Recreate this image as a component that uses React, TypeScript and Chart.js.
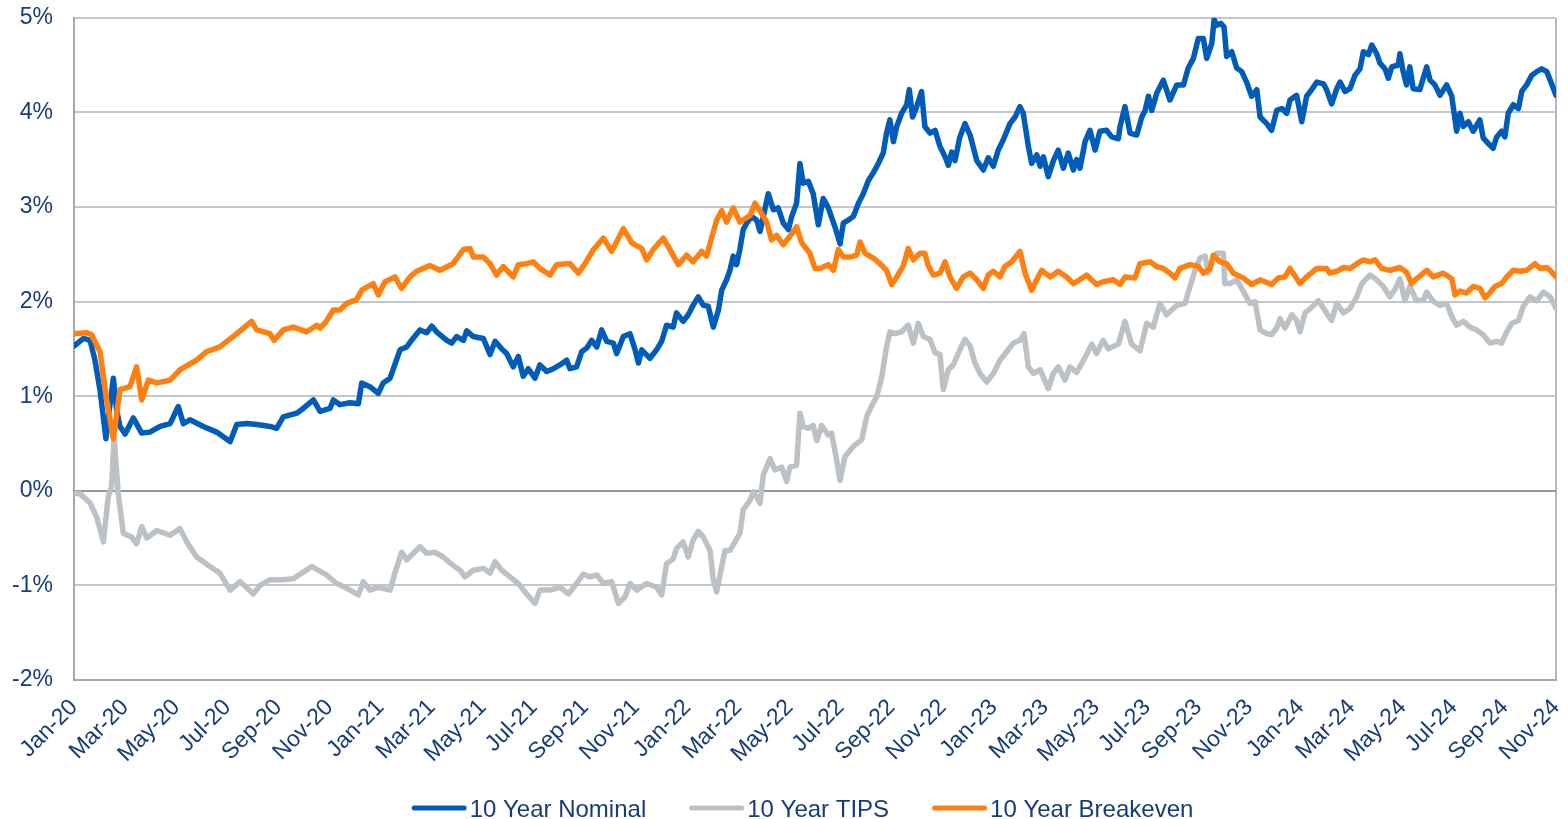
import React, { useEffect, useRef } from 'react';
import { Chart, registerables } from 'chart.js';

Chart.register(...registerables);

const xLabels = [
  'Jan-20', 'Mar-20', 'May-20', 'Jul-20', 'Sep-20', 'Nov-20',
  'Jan-21', 'Mar-21', 'May-21', 'Jul-21', 'Sep-21', 'Nov-21',
  'Jan-22', 'Mar-22', 'May-22', 'Jul-22', 'Sep-22', 'Nov-22',
  'Jan-23', 'Mar-23', 'May-23', 'Jul-23', 'Sep-23', 'Nov-23',
  'Jan-24', 'Mar-24', 'May-24', 'Jul-24', 'Sep-24', 'Nov-24',
];

// [months from the start of the axis, yield in %]
const nominal: [number, number][] = [
  [0, 1.53], [0.37, 1.61], [0.63, 1.59], [0.82, 1.38], [1.02, 1.06], [1.25, 0.55], [1.38, 0.85], [1.54, 1.19], [1.67, 0.85], [1.8, 0.68],
  [2.0, 0.6], [2.32, 0.77], [2.65, 0.61], [2.97, 0.62], [3.37, 0.68], [3.76, 0.71], [4.08, 0.89], [4.28, 0.71], [4.54, 0.75], [5.06, 0.68],
  [5.58, 0.62], [6.11, 0.52], [6.37, 0.7], [6.76, 0.71], [7.15, 0.7], [7.67, 0.68], [7.93, 0.66], [8.19, 0.78], [8.72, 0.82], [8.97, 0.87],
  [9.37, 0.96], [9.63, 0.84], [10.02, 0.87], [10.15, 0.96], [10.41, 0.91], [10.8, 0.93], [11.13, 0.92], [11.26, 1.14], [11.58, 1.1], [11.91, 1.03],
  [12.1, 1.14], [12.37, 1.19], [12.5, 1.29], [12.76, 1.49], [13.02, 1.52], [13.21, 1.59], [13.54, 1.7], [13.8, 1.67], [14.0, 1.74], [14.19, 1.68],
  [14.59, 1.59], [14.78, 1.56], [14.98, 1.63], [15.24, 1.59], [15.37, 1.69], [15.63, 1.63], [16.02, 1.61], [16.28, 1.44], [16.48, 1.58], [16.74, 1.5],
  [16.93, 1.45], [17.19, 1.31], [17.39, 1.42], [17.58, 1.21], [17.78, 1.29], [18.04, 1.19], [18.23, 1.33], [18.5, 1.26], [18.76, 1.29], [19.02, 1.33],
  [19.28, 1.38], [19.41, 1.29], [19.67, 1.31], [19.87, 1.47], [20.07, 1.51], [20.26, 1.59], [20.46, 1.52], [20.65, 1.7], [20.85, 1.58], [21.11, 1.56],
  [21.24, 1.45], [21.5, 1.63], [21.76, 1.66], [21.96, 1.49], [22.09, 1.35], [22.22, 1.49], [22.54, 1.4], [22.8, 1.49], [23.0, 1.58], [23.19, 1.75],
  [23.45, 1.73], [23.58, 1.88], [23.84, 1.79], [24.04, 1.86], [24.23, 1.96], [24.43, 2.05], [24.63, 1.96], [24.82, 1.95], [25.02, 1.73], [25.22, 1.91],
  [25.35, 2.12], [25.54, 2.23], [25.67, 2.33], [25.8, 2.48], [25.93, 2.39], [26.06, 2.55], [26.19, 2.76], [26.33, 2.83], [26.52, 2.9], [26.72, 2.86],
  [26.85, 2.74], [26.98, 2.9], [27.17, 3.14], [27.37, 2.97], [27.56, 2.99], [27.76, 2.83], [27.96, 2.76], [28.09, 2.9], [28.28, 3.04], [28.41, 3.46],
  [28.54, 3.25], [28.74, 3.27], [28.93, 3.14], [29.13, 2.81], [29.32, 3.09], [29.52, 2.99], [29.78, 2.79], [29.98, 2.61], [30.11, 2.83], [30.3, 2.86],
  [30.5, 2.9], [30.7, 3.04], [30.89, 3.14], [31.09, 3.28], [31.28, 3.36], [31.48, 3.46], [31.67, 3.57], [31.8, 3.78], [31.93, 3.92], [32.07, 3.69],
  [32.2, 3.85], [32.39, 3.99], [32.59, 4.08], [32.69, 4.24], [32.82, 3.95], [32.98, 4.06], [33.17, 4.22], [33.3, 3.85], [33.5, 3.78], [33.7, 3.81],
  [33.89, 3.64], [34.09, 3.53], [34.22, 3.44], [34.35, 3.58], [34.48, 3.49], [34.67, 3.74], [34.87, 3.88], [35.07, 3.76], [35.33, 3.49], [35.59, 3.39],
  [35.78, 3.52], [35.98, 3.43], [36.17, 3.6], [36.37, 3.71], [36.63, 3.88], [36.83, 3.95], [37.02, 4.06], [37.15, 3.99], [37.35, 3.64], [37.48, 3.46],
  [37.68, 3.55], [37.81, 3.43], [37.94, 3.53], [38.13, 3.32], [38.33, 3.49], [38.52, 3.6], [38.72, 3.41], [38.91, 3.57], [39.11, 3.39], [39.24, 3.5],
  [39.37, 3.41], [39.57, 3.69], [39.76, 3.81], [39.96, 3.6], [40.15, 3.8], [40.41, 3.81], [40.61, 3.74], [40.87, 3.72], [40.94, 3.85], [41.13, 4.06],
  [41.33, 3.78], [41.59, 3.76], [41.79, 3.95], [41.92, 4.02], [42.05, 4.17], [42.18, 4.02], [42.37, 4.2], [42.63, 4.34], [42.89, 4.13], [43.16, 4.29],
  [43.42, 4.29], [43.61, 4.47], [43.81, 4.57], [44.0, 4.78], [44.2, 4.78], [44.33, 4.57], [44.53, 4.73], [44.62, 4.98], [44.72, 4.92], [44.88, 4.94],
  [45.01, 4.9], [45.11, 4.59], [45.31, 4.64], [45.5, 4.47], [45.7, 4.43], [45.89, 4.32], [46.09, 4.17], [46.29, 4.24], [46.42, 3.95], [46.68, 3.88],
  [46.87, 3.81], [47.07, 4.02], [47.27, 4.04], [47.46, 3.99], [47.59, 4.13], [47.85, 4.18], [48.05, 3.9], [48.24, 4.17], [48.44, 4.24], [48.64, 4.32],
  [48.9, 4.3], [49.02, 4.24], [49.22, 4.09], [49.42, 4.25], [49.55, 4.32], [49.74, 4.22], [49.94, 4.25], [50.13, 4.39], [50.33, 4.46], [50.46, 4.64],
  [50.66, 4.61], [50.79, 4.71], [50.98, 4.62], [51.11, 4.52], [51.31, 4.46], [51.44, 4.36], [51.57, 4.48], [51.83, 4.5], [51.89, 4.62], [52.02, 4.43],
  [52.15, 4.29], [52.28, 4.48], [52.41, 4.25], [52.67, 4.24], [52.94, 4.48], [53.07, 4.34], [53.26, 4.29], [53.46, 4.18], [53.72, 4.29], [53.92, 4.17],
  [54.05, 3.92], [54.11, 3.8], [54.24, 3.99], [54.37, 3.85], [54.57, 3.9], [54.76, 3.8], [55.02, 3.92], [55.15, 3.73], [55.35, 3.67], [55.54, 3.62],
  [55.68, 3.74], [55.87, 3.8], [56.0, 3.74], [56.13, 3.99], [56.33, 4.08], [56.53, 4.04], [56.66, 4.22], [56.85, 4.29], [57.05, 4.39], [57.25, 4.43],
  [57.44, 4.46], [57.64, 4.43], [57.83, 4.3], [58.0, 4.18],
];

const tips: [number, number][] = [
  [0, -0.03], [0.23, -0.03], [0.63, -0.13], [0.89, -0.28], [1.15, -0.54], [1.34, -0.06], [1.47, 0.04], [1.57, 0.57], [1.73, -0.03], [1.93, -0.45],
  [2.26, -0.49], [2.45, -0.56], [2.65, -0.38], [2.85, -0.5], [3.24, -0.42], [3.76, -0.47], [4.15, -0.4], [4.41, -0.54], [4.8, -0.7], [5.32, -0.8],
  [5.71, -0.87], [6.11, -1.05], [6.5, -0.96], [7.02, -1.09], [7.28, -1.0], [7.67, -0.94], [8.19, -0.94], [8.58, -0.93], [8.97, -0.86], [9.3, -0.8],
  [9.76, -0.87], [9.89, -0.89], [10.28, -0.98], [10.67, -1.03], [11.13, -1.1], [11.32, -0.96], [11.58, -1.05], [11.91, -1.02], [12.37, -1.05], [12.56, -0.87],
  [12.82, -0.65], [13.02, -0.73], [13.28, -0.66], [13.54, -0.59], [13.8, -0.66], [14.13, -0.65], [14.45, -0.7], [14.84, -0.79], [15.11, -0.84], [15.3, -0.91],
  [15.63, -0.84], [16.02, -0.82], [16.28, -0.87], [16.48, -0.75], [16.74, -0.84], [17.06, -0.91], [17.39, -0.98], [17.71, -1.09], [18.04, -1.19], [18.23, -1.05],
  [18.63, -1.05], [19.02, -1.02], [19.35, -1.09], [19.67, -0.98], [19.93, -0.88], [20.19, -0.91], [20.46, -0.89], [20.72, -0.98], [21.04, -0.96], [21.31, -1.19],
  [21.57, -1.12], [21.76, -0.98], [22.02, -1.05], [22.41, -0.98], [22.8, -1.02], [23.0, -1.1], [23.19, -0.77], [23.45, -0.72], [23.58, -0.61], [23.84, -0.54],
  [24.04, -0.7], [24.23, -0.52], [24.43, -0.43], [24.63, -0.49], [24.89, -0.63], [25.02, -0.94], [25.15, -1.07], [25.35, -0.8], [25.48, -0.63], [25.67, -0.63],
  [25.87, -0.54], [26.06, -0.45], [26.19, -0.2], [26.46, -0.1], [26.59, -0.01], [26.85, -0.13], [26.98, 0.17], [27.24, 0.34], [27.43, 0.22], [27.7, 0.25],
  [27.89, 0.1], [28.02, 0.25], [28.28, 0.27], [28.41, 0.82], [28.54, 0.68], [28.74, 0.66], [28.93, 0.69], [29.07, 0.53], [29.26, 0.69], [29.52, 0.59],
  [29.65, 0.61], [29.85, 0.32], [29.98, 0.11], [30.17, 0.36], [30.5, 0.47], [30.83, 0.54], [31.02, 0.78], [31.22, 0.9], [31.41, 0.99], [31.61, 1.2],
  [31.8, 1.52], [31.93, 1.68], [32.13, 1.66], [32.39, 1.68], [32.65, 1.75], [32.85, 1.56], [33.04, 1.77], [33.24, 1.63], [33.5, 1.6], [33.7, 1.46],
  [33.89, 1.44], [34.02, 1.07], [34.22, 1.28], [34.41, 1.33], [34.67, 1.49], [34.87, 1.6], [35.07, 1.53], [35.26, 1.35], [35.46, 1.24], [35.72, 1.15],
  [35.98, 1.24], [36.24, 1.38], [36.5, 1.47], [36.76, 1.56], [37.02, 1.59], [37.18, 1.66], [37.35, 1.31], [37.55, 1.24], [37.81, 1.28], [38.13, 1.08],
  [38.33, 1.24], [38.52, 1.31], [38.78, 1.17], [38.98, 1.31], [39.24, 1.25], [39.57, 1.41], [39.83, 1.55], [40.02, 1.45], [40.28, 1.59], [40.48, 1.5],
  [40.87, 1.55], [41.13, 1.79], [41.39, 1.55], [41.72, 1.48], [41.98, 1.77], [42.24, 1.73], [42.5, 1.98], [42.76, 1.86], [43.16, 1.96], [43.48, 1.98],
  [43.68, 2.16], [43.87, 2.33], [44.07, 2.46], [44.27, 2.48], [44.39, 2.3], [44.59, 2.46], [44.72, 2.51], [44.98, 2.51], [45.04, 2.19], [45.24, 2.19],
  [45.5, 2.23], [45.76, 2.11], [46.02, 1.98], [46.22, 2.0], [46.42, 1.7], [46.68, 1.66], [46.87, 1.65], [47.07, 1.72], [47.2, 1.82], [47.39, 1.72],
  [47.66, 1.86], [47.85, 1.8], [47.98, 1.68], [48.18, 1.88], [48.44, 1.94], [48.7, 2.01], [49.02, 1.88], [49.22, 1.8], [49.42, 1.98], [49.68, 1.88],
  [49.94, 1.93], [50.2, 2.05], [50.4, 2.19], [50.72, 2.28], [50.98, 2.23], [51.24, 2.16], [51.5, 2.05], [51.7, 2.13], [51.89, 2.24], [52.09, 2.01],
  [52.28, 2.16], [52.54, 2.01], [52.8, 2.01], [52.94, 2.1], [53.2, 2.0], [53.46, 1.96], [53.72, 1.98], [53.92, 1.84], [54.11, 1.75], [54.37, 1.79],
  [54.63, 1.73], [54.89, 1.7], [55.15, 1.65], [55.41, 1.56], [55.68, 1.58], [55.87, 1.56], [56.07, 1.68], [56.27, 1.77], [56.53, 1.8], [56.72, 1.95],
  [56.98, 2.05], [57.25, 2.01], [57.51, 2.1], [57.77, 2.05], [58.0, 1.93],
];

const breakeven: [number, number][] = [
  [0, 1.66], [0.5, 1.67], [0.69, 1.65], [1.02, 1.47], [1.15, 1.21], [1.28, 0.96], [1.54, 0.55], [1.8, 1.07], [2.19, 1.1], [2.45, 1.31],
  [2.65, 0.96], [2.91, 1.17], [3.24, 1.14], [3.76, 1.17], [4.15, 1.28], [4.8, 1.38], [5.19, 1.47], [5.71, 1.52], [6.37, 1.66], [6.95, 1.79],
  [7.15, 1.7], [7.67, 1.66], [7.83, 1.59], [8.19, 1.7], [8.58, 1.73], [9.11, 1.68], [9.5, 1.75], [9.63, 1.72], [9.82, 1.77], [10.15, 1.91],
  [10.41, 1.91], [10.67, 1.98], [11.06, 2.02], [11.26, 2.12], [11.71, 2.19], [11.91, 2.07], [12.17, 2.21], [12.56, 2.26], [12.82, 2.14], [13.15, 2.26],
  [13.41, 2.32], [13.93, 2.38], [14.32, 2.33], [14.84, 2.4], [15.24, 2.55], [15.5, 2.56], [15.63, 2.47], [16.02, 2.47], [16.28, 2.4], [16.54, 2.28],
  [16.8, 2.37], [17.19, 2.26], [17.39, 2.39], [17.71, 2.4], [17.98, 2.42], [18.23, 2.35], [18.63, 2.28], [18.89, 2.39], [19.28, 2.4], [19.41, 2.4],
  [19.74, 2.3], [20.0, 2.4], [20.33, 2.55], [20.72, 2.67], [21.04, 2.53], [21.5, 2.77], [21.83, 2.62], [22.22, 2.56], [22.41, 2.44], [22.67, 2.55],
  [23.06, 2.67], [23.32, 2.55], [23.65, 2.39], [23.98, 2.49], [24.23, 2.42], [24.56, 2.53], [24.76, 2.48], [24.95, 2.67], [25.15, 2.86], [25.35, 2.96],
  [25.54, 2.84], [25.8, 2.99], [26.06, 2.84], [26.46, 2.91], [26.65, 3.04], [26.91, 2.93], [27.11, 2.84], [27.3, 2.65], [27.5, 2.7], [27.76, 2.6],
  [28.02, 2.69], [28.28, 2.79], [28.48, 2.62], [28.8, 2.51], [29.0, 2.35], [29.2, 2.35], [29.52, 2.39], [29.72, 2.33], [29.91, 2.55], [30.11, 2.47],
  [30.37, 2.47], [30.63, 2.49], [30.76, 2.63], [30.96, 2.51], [31.28, 2.46], [31.54, 2.4], [31.8, 2.33], [32.0, 2.18], [32.2, 2.26], [32.46, 2.38],
  [32.65, 2.56], [32.85, 2.44], [33.11, 2.51], [33.3, 2.51], [33.43, 2.38], [33.63, 2.28], [33.89, 2.3], [34.09, 2.42], [34.28, 2.26], [34.54, 2.14],
  [34.8, 2.26], [35.07, 2.3], [35.33, 2.23], [35.59, 2.14], [35.78, 2.28], [35.98, 2.32], [36.24, 2.26], [36.43, 2.37], [36.7, 2.42], [37.02, 2.53],
  [37.22, 2.3], [37.48, 2.12], [37.68, 2.23], [37.87, 2.33], [38.2, 2.26], [38.52, 2.32], [38.85, 2.26], [39.11, 2.19], [39.24, 2.21], [39.63, 2.28],
  [40.02, 2.18], [40.28, 2.21], [40.67, 2.23], [40.94, 2.18], [41.13, 2.26], [41.52, 2.25], [41.72, 2.4], [42.11, 2.42], [42.37, 2.37], [42.63, 2.35],
  [42.89, 2.3], [43.09, 2.25], [43.29, 2.35], [43.68, 2.39], [44.0, 2.37], [44.2, 2.3], [44.46, 2.35], [44.59, 2.49], [44.85, 2.42], [45.11, 2.4],
  [45.37, 2.3], [45.76, 2.25], [46.09, 2.18], [46.42, 2.23], [46.87, 2.18], [47.13, 2.25], [47.39, 2.26], [47.59, 2.35], [47.98, 2.19], [48.24, 2.26],
  [48.64, 2.35], [49.02, 2.35], [49.15, 2.3], [49.42, 2.32], [49.68, 2.36], [49.94, 2.35], [50.2, 2.4], [50.46, 2.44], [50.72, 2.42], [50.92, 2.44],
  [51.18, 2.35], [51.5, 2.33], [51.89, 2.36], [52.15, 2.31], [52.35, 2.19], [52.54, 2.24], [52.94, 2.33], [53.2, 2.26], [53.59, 2.3], [53.92, 2.24],
  [54.05, 2.07], [54.24, 2.11], [54.5, 2.09], [54.76, 2.16], [55.02, 2.14], [55.22, 2.04], [55.41, 2.09], [55.61, 2.16], [55.87, 2.19], [56.07, 2.26],
  [56.33, 2.33], [56.59, 2.32], [56.85, 2.33], [57.18, 2.4], [57.38, 2.35], [57.64, 2.36], [57.77, 2.33], [58.0, 2.26],
];

const seriesNames = ['10 Year Nominal', '10 Year TIPS', '10 Year Breakeven'];

const FONT = "'Liberation Sans', Arial, Helvetica, sans-serif";
const TEXT = '#173C78';
const BLUE = '#005CB9';
const GRAY = '#BCC1C6';
const ORANGE = '#FF7F10';

const lineLegend = {
  id: 'lineLegend',
  afterDraw(chart: any) {
    const ctx = chart.ctx as CanvasRenderingContext2D;
    const items = chart.data.datasets.map((d: any) => ({ text: d.label, color: d.borderColor }));
    ctx.save();
    ctx.font = `24px ${FONT}`;
    const lineLen = 55;
    const gapText = 3;
    const gapItem = 43;
    const widths = items.map((it: any) => lineLen + gapText + ctx.measureText(it.text).width);
    const total = widths.reduce((a: number, b: number) => a + b, 0) + gapItem * (items.length - 1);
    let x = chart.width / 2 + 18.5 - total / 2;
    const y = 808;
    items.forEach((it: any, i: number) => {
      ctx.strokeStyle = it.color;
      ctx.lineWidth = 5;
      ctx.lineCap = 'round';
      ctx.beginPath();
      ctx.moveTo(x + 2.5, y);
      ctx.lineTo(x + lineLen - 2.5, y);
      ctx.stroke();
      ctx.fillStyle = TEXT;
      ctx.textBaseline = 'alphabetic';
      ctx.textAlign = 'left';
      ctx.fillText(it.text, x + lineLen + gapText, y + 8.6);
      x += widths[i] + gapItem;
    });
    ctx.restore();
  },
};

export default function App() {
  const ref = useRef<HTMLCanvasElement>(null);

  useEffect(() => {
    const canvas = ref.current;
    if (!canvas) return;
    const toPts = (rows: [number, number][]) => rows.map(([m, v]) => ({ x: m, y: v }));
    const common = {
      pointRadius: 0,
      pointHoverRadius: 0,
      borderWidth: 5.5,
      tension: 0,
      fill: false,
      borderJoinStyle: 'round' as const,
      borderCapStyle: 'round' as const,
    };
    const chart = new Chart(canvas, {
      type: 'line',
      data: {
        datasets: [
          { ...common, label: seriesNames[0], data: toPts(nominal), borderColor: BLUE, backgroundColor: BLUE, order: 2 },
          { ...common, label: seriesNames[1], data: toPts(tips), borderColor: GRAY, backgroundColor: GRAY, order: 1 },
          { ...common, label: seriesNames[2], data: toPts(breakeven), borderColor: ORANGE, backgroundColor: ORANGE, order: 0 },
        ],
      },
      options: {
        responsive: false,
        animation: false,
        events: [],
        parsing: false,
        layout: { padding: { top: 17.7, right: 12, bottom: 49, left: 0 } },
        plugins: {
          legend: { display: false },
          tooltip: { enabled: false },
        },
        scales: {
          x: {
            type: 'linear',
            min: 0,
            max: 58,
            ticks: {
              stepSize: 2,
              maxTicksLimit: 100,
              autoSkip: false,
              maxRotation: 45,
              minRotation: 45,
              padding: 14,
              color: TEXT,
              font: { family: FONT, size: 23 },
              callback: (v: any) => xLabels[Math.round(Number(v) / 2)] ?? '',
            },
            grid: {
              drawTicks: false,
              lineWidth: 2,
              color: (c: any) => (c.tick && c.tick.value === 58 ? '#B3B8BD' : 'rgba(0,0,0,0)'),
            },
            border: { display: true, color: '#A3A9AF', width: 2 },
            afterFit: (s: any) => {
              s.height = 90;
              s.paddingLeft = 0;
              s.paddingRight = 0;
            },
          },
          y: {
            min: -2,
            max: 5,
            ticks: {
              stepSize: 1,
              padding: 21,
              color: TEXT,
              font: { family: FONT, size: 23 },
              callback: (v: any) => `${v}%`,
            },
            grid: {
              drawTicks: false,
              lineWidth: 2,
              color: (c: any) => (c.tick && c.tick.value === 0 ? '#8F979F' : '#C3C7CB'),
            },
            border: { display: true, color: '#A3A9AF', width: 2 },
            afterFit: (s: any) => {
              s.width = 74;
              s.paddingTop = 0;
              s.paddingBottom = 0;
            },
          },
        },
      },
      plugins: [lineLegend],
    });
    return () => chart.destroy();
  }, []);

  return (
    <div style={{ position: 'fixed', left: 0, top: 0, width: 1568, height: 819, background: '#ffffff' }}>
      <canvas ref={ref} width={1568} height={819} style={{ display: 'block', width: 1568, height: 819 }} />
    </div>
  );
}
